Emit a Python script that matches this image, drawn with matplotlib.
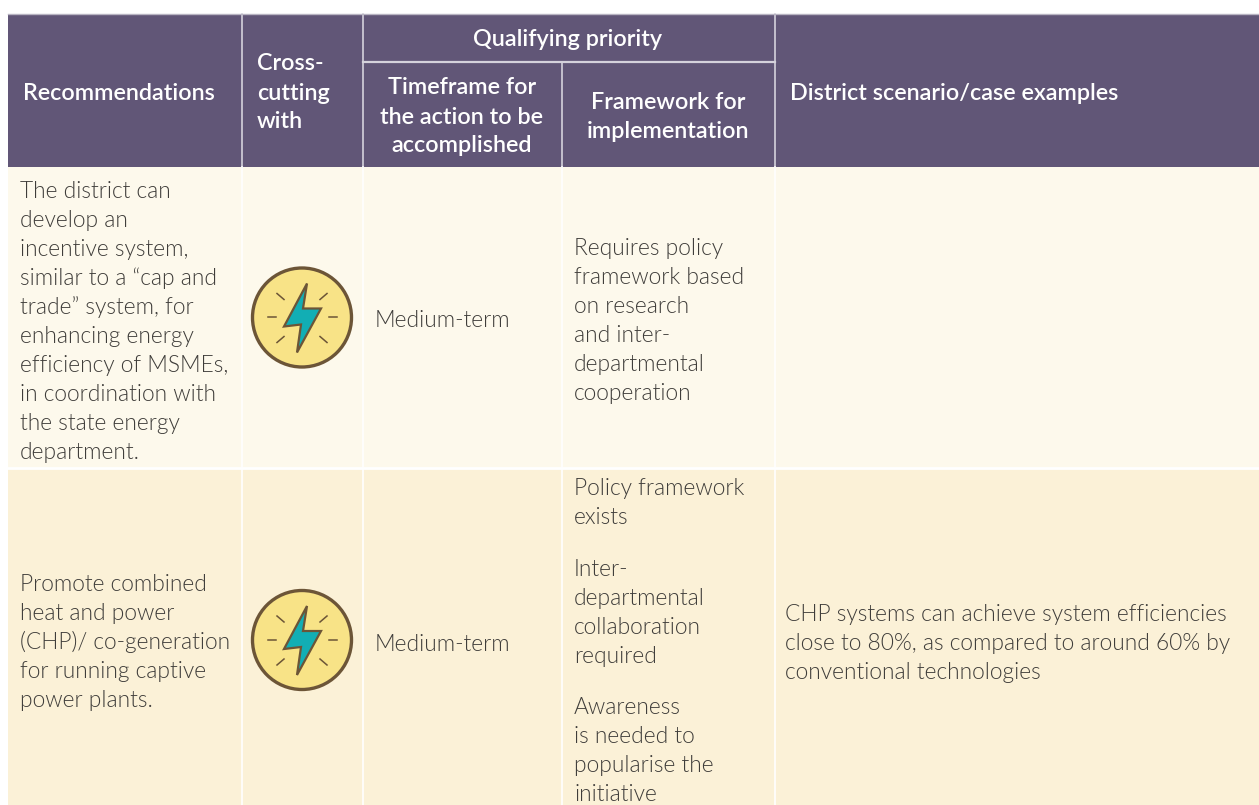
import matplotlib
matplotlib.use("Agg")
import matplotlib.pyplot as plt
import matplotlib.patches as patches
from matplotlib import font_manager as fm

rec_1 = ["The district can", "develop an", "incentive system,", "similar to a \u201ccap and", "trade\u201d system, for",
         "enhancing energy", "efficiency of MSMEs,", "in coordination with", "the state energy", "department."]
rec_2 = ["Promote combined", "heat and power", "(CHP)/ co-generation", "for running captive", "power plants."]
timeframes = ["Medium-term", "Medium-term"]
framework_1 = ["Requires policy", "framework based", "on research", "and inter-", "departmental", "cooperation"]
framework_2 = [["Policy framework", "exists"],
               ["Inter-", "departmental", "collaboration", "required"],
               ["Awareness", "is needed to", "popularise the", "initiative"]]
case_2 = ["CHP systems can achieve system efficiencies", "close to 80%, as compared to around 60% by",
          "conventional technologies"]

HEAD = "#615677"
ROW1 = "#fdf9ec"
ROW2 = "#fbf1d7"
INK = "#3f3d3a"

# Lato Light, picked by file so the hairline cut isn't used
light = [f.fname for f in fm.fontManager.ttflist if f.name == "Lato" and f.fname.endswith("Lato-Light.ttf")]
LIGHT = fm.FontProperties(fname=light[0]) if light else fm.FontProperties(family="Lato")
BOLD = fm.FontProperties(family="Lato", weight="semibold")

fig = plt.figure(figsize=(12.59, 8.05), dpi=100, facecolor="white")
ax = fig.add_axes([0, 0, 1, 1])
ax.set_xlim(0, 1259)
ax.set_ylim(805, 0)
ax.axis("off")

cols = [8, 242, 363, 562, 775, 1259]
top, mid, head_bot, row_bot, bot = 14, 62, 167, 468, 805


def rect(x0, y0, x1, y1, color):
    ax.add_patch(patches.Rectangle((x0, y0), x1 - x0, y1 - y0, fc=color, ec="none"))


def lines(x, yc, rows, prop, size, color, ha="left"):
    y0 = yc - 29 * (len(rows) - 1) / 2
    for i, s in enumerate(rows):
        t = ax.text(x, y0 + i * 29, s, va="center", ha=ha, color=color, fontproperties=prop)
        t.set_fontsize(size)


def body(x, yc, rows):
    lines(x, yc, rows, LIGHT, 16.4, INK)


def head(x, yc, rows, ha="left"):
    lines(x, yc, rows, BOLD, 16.8, "white", ha)


def icon(cx, cy):
    ax.add_patch(patches.Circle((cx, cy), 49.5, fc="#f8e387", ec="#6c5537", lw=2.4))
    for dx0, dy0, dx1, dy1 in [(-34, 0, -26, 0), (27, 0, 35, 0), (-25, -24, -18, -18), (25, -24, 18, -18),
                               (-25, 25, -18, 19), (25, 25, 18, 19)]:
        ax.plot([cx + dx0, cx + dx1], [cy + dy0, cy + dy1], color="#6c5537", lw=1.1)
    bolt = [(5, -34), (1, -9), (19, -9), (-5, 35), (-1, 7), (-18, 9)]
    ax.add_patch(patches.Polygon([(cx + a, cy + b) for a, b in bolt], fc="#12aeb4", ec="#6c5537", lw=1.6, joinstyle="miter"))


rect(cols[0], top, 1259, head_bot, HEAD)
rect(cols[0], head_bot, 1259, row_bot, ROW1)
rect(cols[0], row_bot, 1259, bot, ROW2)

# grid lines
for x in cols[1:5]:
    y0 = mid if x == 562 else top
    ax.plot([x, x], [y0, head_bot], color="#d5d2dc", lw=1.2)
    ax.plot([x, x], [head_bot, bot], color="white", lw=1.2)
ax.plot([363, 775], [mid, mid], color="#d5d2dc", lw=1.6)
ax.plot([8, 1259], [14, 14], color="#b8b4c2", lw=1)
ax.plot([8, 1259], [row_bot, row_bot], color="white", lw=2)

# header
head(23, 93, ["Recommendations"])
head(257, 93, ["Cross-", "cutting", "with"])
head(568, 39, ["Qualifying priority"], ha="center")
head(462, 117, ["Timeframe for", "the action to be", "accomplished"], ha="center")
head(668, 117, ["Framework for", "implementation"], ha="center")
head(790, 93, ["District scenario/case examples"])

# body
body(20, 322, rec_1)
body(20, 642, rec_2)
body(375, 320, timeframes[:1])
body(375, 644, timeframes[1:])
body(574, 321, framework_1)
body(574, 503, framework_2[0])
body(574, 613, framework_2[1])
body(574, 751, framework_2[2])
body(785, 643, case_2)

icon(302, 317.5)
icon(302, 640)

fig.savefig("out.png", dpi=100)
